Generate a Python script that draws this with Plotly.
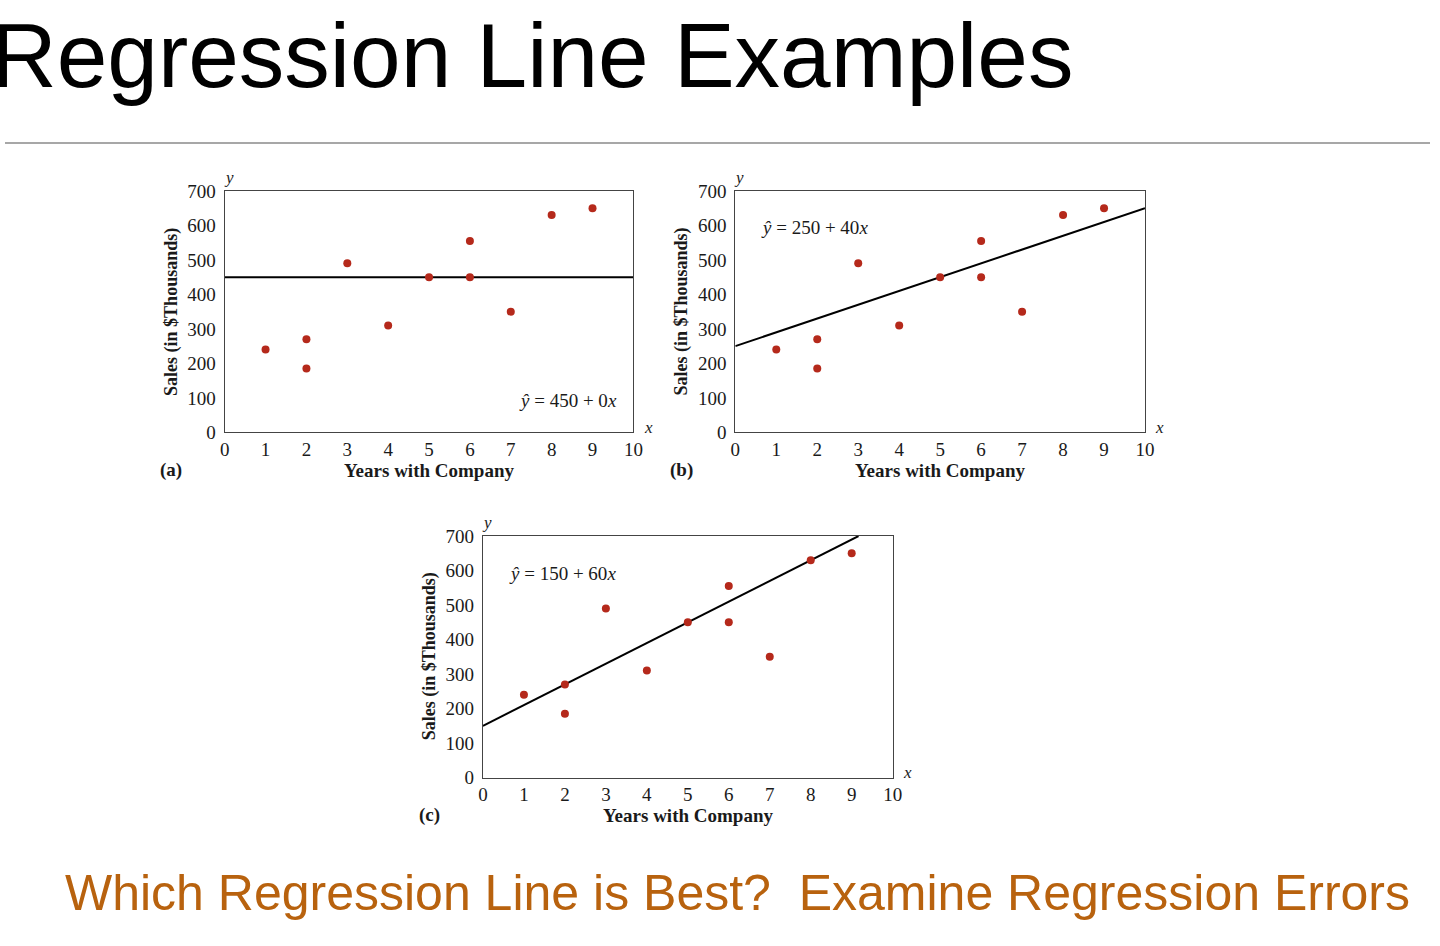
import plotly.graph_objects as go

# data
years = [1, 2, 2, 3, 4, 5, 6, 6, 7, 8, 9]
sales = [240, 270, 185, 490, 310, 450, 555, 450, 350, 630, 650]

# candidate regression lines: intercept, slope
intercepts = [450, 250, 150]
slopes = [0, 40, 60]
panel_tags = ["(a)", "(b)", "(c)"]
eq_pos = [(8.4, 93), (1.93, 595), (1.93, 592)]

x_ticks = list(range(0, 11))
y_ticks = list(range(0, 701, 100))

W, H = 1440, 946
# plot area boxes in pixels: left, right, top, bottom
boxes = [(222, 635, 185, 432), (738, 1152, 185, 432), (483, 897, 538, 785)]

serif = "Liberation Serif, Times New Roman, serif"
sans = "Liberation Sans, Arial, sans-serif"
ink = "#1a1a1a"
dot_color = "#B5291B"


def px(x, y):
    # pixel position -> paper coords
    return x / W, 1 - y / H


def note(x, y, text, size, **kw):
    ax, ay = px(x, y)
    d = dict(x=ax, y=ay, xref="paper", yref="paper", showarrow=False,
             xanchor="center", yanchor="middle", text=text,
             font=dict(family=serif, size=size, color=ink))
    d.update(kw)
    return d


fig = go.Figure()
annotations = []

for i in range(3):
    n = "" if i == 0 else str(i + 1)
    xa, ya = "x" + n, "y" + n
    b0, b1 = intercepts[i], slopes[i]
    # line drawn across the axis, stopped where it leaves the top
    x_end = 10 if b1 == 0 else min(10, (700 - b0) / b1)
    fig.add_trace(go.Scatter(
        x=[0, x_end], y=[b0, b0 + b1 * x_end],
        mode="lines", line=dict(color="black", width=2),
        xaxis=xa, yaxis=ya, showlegend=False, hoverinfo="skip",
    ))
    fig.add_trace(go.Scatter(
        x=years, y=sales, mode="markers",
        marker=dict(color=dot_color, size=8),
        xaxis=xa, yaxis=ya, showlegend=False,
    ))

    l, r, t, bt = boxes[i]
    axis_style = dict(
        showgrid=False, zeroline=False, showline=True, mirror=True,
        linecolor="#444", linewidth=1.2, ticks="",
        tickfont=dict(family=serif, size=19, color=ink),
    )
    fig.layout["xaxis" + n] = dict(
        axis_style, domain=[l / W, r / W], range=[0, 10],
        tickvals=x_ticks, anchor=ya, ticklabelstandoff=0,
    )
    fig.layout["yaxis" + n] = dict(
        axis_style, domain=[1 - bt / H, 1 - t / H], range=[0, 700],
        tickvals=y_ticks, anchor=xa, ticklabelstandoff=4,
    )

    ex, ey = eq_pos[i]
    annotations.append(dict(
        x=ex, y=ey, xref=xa, yref=ya, showarrow=False,
        text=f"<i>ŷ</i> = {b0} + {b1}<i>x</i>",
        font=dict(family=serif, size=19, color=ink),
    ))
    annotations.append(note((l + r) / 2, bt + 39, "<b>Years with Company</b>", 19))
    annotations.append(note(l - 54, (t + bt) / 2, "<b>Sales (in $Thousands)</b>", 18,
                            textangle=-90))
    annotations.append(note(l + 4, t - 14, "<i>y</i>", 17))
    annotations.append(note(r + 15, bt - 5, "<i>x</i>", 17))
    annotations.append(note(l - 54, bt + 38, "<b>" + panel_tags[i] + "</b>", 19))

annotations.append(note(-16, 47, "Regression Line Examples", 91, xanchor="left",
                        font=dict(family=sans, size=91, color="black")))
annotations.append(note(59, 903, "Which Regression Line is Best?  Examine Regression Errors",
                        50, xanchor="left", font=dict(family=sans, size=50, color="#B8620E")))

fig.update_layout(
    width=W, height=H,
    margin=dict(l=0, r=0, t=0, b=0),
    paper_bgcolor="white", plot_bgcolor="white",
    annotations=annotations,
    shapes=[dict(type="line", xref="paper", yref="paper", x0=0, x1=1,
                 y0=1 - 136 / H, y1=1 - 136 / H, line=dict(color="#8a8a8a", width=1.5))],
)

# drop the default page margin so the figure sits at the window corner
fig.write_html(
    "out.html",
    config={"displayModeBar": False},
    post_script="document.body.style.margin='0';document.body.style.overflow='hidden';",
)
